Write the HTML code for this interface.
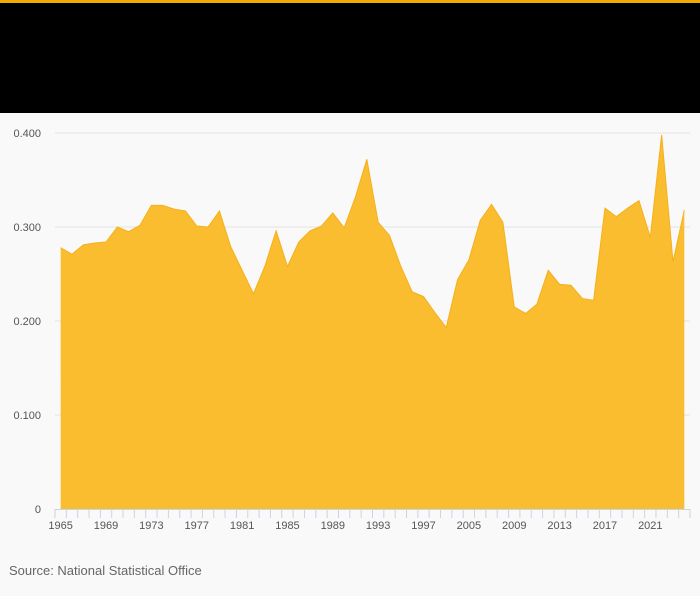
<!DOCTYPE html>
<html><head><meta charset="utf-8"><style>
body{margin:0;width:700px;height:596px;background:#f9f9f9;font-family:"Liberation Sans",sans-serif;overflow:hidden;position:relative}
#topbar{position:absolute;left:0;top:0;width:700px;height:3px;background:#f5aa00}
#header{position:absolute;left:0;top:3px;width:700px;height:110px;background:#000}
#src{position:absolute;left:9px;top:563px;font-size:13px;color:#666}
svg{position:absolute;left:0;top:0}
</style></head><body>
<div id="topbar"></div>
<div id="header"></div>
<svg id="chart" width="700" height="596"></svg>
<div id="src">Source: National Statistical Office</div>
<script>
const years=[1965,1966,1967,1968,1969,1970,1971,1972,1973,1974,1975,1976,1977,1978,1979,1980,1981,1982,1983,1984,1985,1986,1987,1988,1989,1990,1991,1992,1993,1994,1995,1996,1997,1998,1999,2000,2005,2006,2007,2008,2009,2010,2011,2012,2013,2014,2015,2016,2017,2018,2019,2020,2021,2022,2023,2024];
const values=[0.278,0.271,0.281,0.283,0.284,0.300,0.295,0.302,0.323,0.323,0.319,0.317,0.301,0.300,0.317,0.279,0.254,0.229,0.258,0.296,0.258,0.284,0.296,0.301,0.315,0.299,0.332,0.372,0.305,0.291,0.258,0.231,0.226,0.209,0.193,0.244,0.265,0.307,0.324,0.305,0.215,0.208,0.218,0.254,0.239,0.238,0.224,0.222,0.320,0.311,0.320,0.328,0.289,0.398,0.263,0.318];
const yTicks=[0,0.1,0.2,0.3,0.4];
const yTickLabels=["0","0.100","0.200","0.300","0.400"];
const NS="http://www.w3.org/2000/svg";
const svg=document.getElementById('chart');
const X0=55,X1=690,Y0=509,Y1=133,YMAX=0.4;
const band=(X1-X0)/years.length;
const xs=i=>X0+band*(i+0.5);
const ys=v=>Y0-(v/YMAX)*(Y0-Y1);
function mk(t,a){const e=document.createElementNS(NS,t);for(const k in a)e.setAttribute(k,a[k]);svg.appendChild(e);return e;}
yTicks.forEach((t,i)=>{
  if(t>0){const g=mk('line',{x1:X0,x2:X1,y1:ys(t),y2:ys(t),stroke:'#e2e2e2','stroke-width':1});
  
  }
  const l=mk('text',{x:41,y:ys(t)+4,'text-anchor':'end','font-size':11,fill:'#555'});
  l.textContent=yTickLabels[i];
  
  
});
let d='M'+xs(0)+','+Y0;
values.forEach((v,i)=>{d+=' L'+xs(i).toFixed(2)+','+ys(v).toFixed(2);});
d+=' L'+xs(values.length-1)+','+Y0+' Z';
const area=mk('path',{d:d,fill:'#fabd2f',stroke:'none'});


let ld='';
values.forEach((v,i)=>{ld+=(i?' L':'M')+xs(i).toFixed(2)+','+ys(v).toFixed(2);});
const line=mk('path',{d:ld,fill:'none',stroke:'#f5b01a','stroke-width':1});


const ax=mk('line',{x1:X0,x2:X1,y1:Y0+0.5,y2:Y0+0.5,stroke:'#c8d4e8','stroke-width':1});


for(let i=0;i<=years.length;i++){
  const tx=X0+band*i;
  const tk=mk('line',{x1:tx,x2:tx,y1:Y0,y2:Y0+9,stroke:'#c8d4e8','stroke-width':1});
  
  
}
years.forEach((y,i)=>{
  if(i%4!==0)return;
  const l=mk('text',{x:xs(i),y:Y0+20,'text-anchor':'middle','font-size':11,fill:'#555'});
  l.textContent=y;
  
  
});
</script>
</body></html>
